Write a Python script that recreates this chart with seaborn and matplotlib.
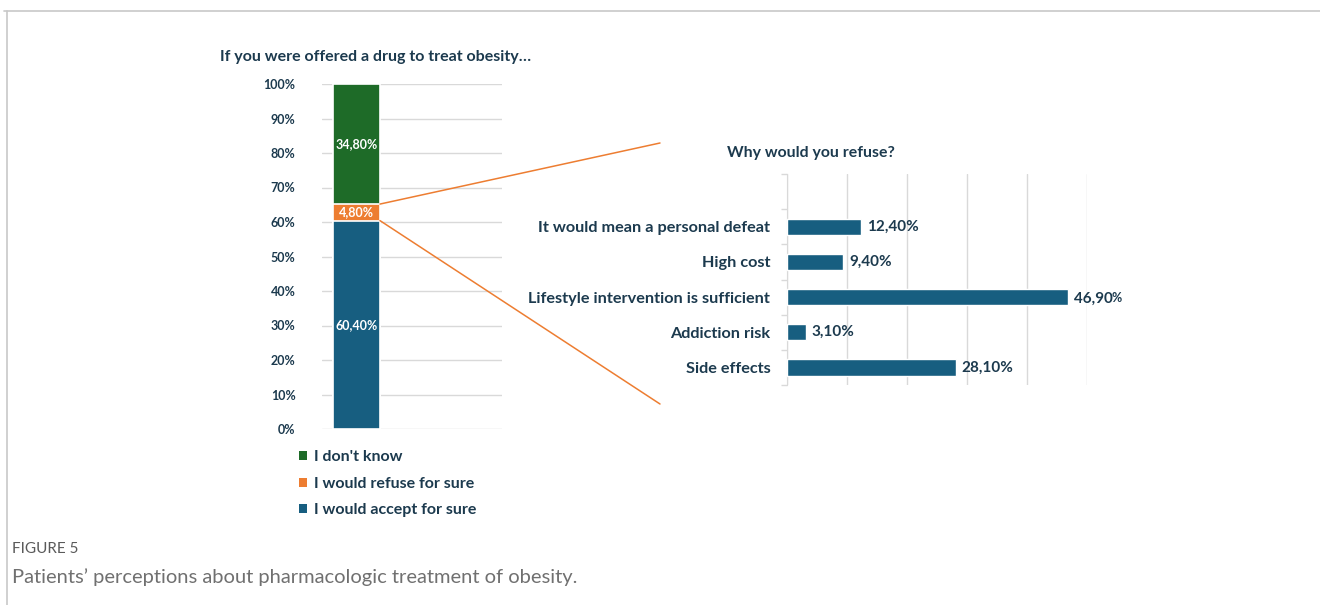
import numpy as np
import pandas as pd
import matplotlib
matplotlib.use("Agg")
import matplotlib.pyplot as plt
import seaborn as sns
from matplotlib.patches import Patch, ConnectionPatch
from matplotlib.lines import Line2D

# ---------------- data ----------------
stack_labels = ["I would accept for sure", "I would refuse for sure", "I don't know"]
stack_values = [60.4, 4.8, 34.8]
stack_text = ["60,40%", "4,80%", "34,80%"]
left_ticks = list(range(0, 101, 10))
left_tick_labels = [f"{t}%" for t in left_ticks]

reasons = ["It would mean a personal defeat", "High cost",
           "Lifestyle intervention is sufficient", "Addiction risk", "Side effects"]
reason_values = [12.4, 9.4, 46.9, 3.1, 28.1]
reason_text = ["12,40", "9,40", "46,90", "3,10", "28,10"]

# ---------------- style ----------------
sns.set_style("white")
plt.rcParams["font.family"] = ["Lato", "DejaVu Sans"]
NAVY = "#1c3a4e"
GREEN = "#1e6b28"
ORANGE = "#ed7d31"
BLUE = "#175e80"
GRID = "#d9d9d9"
stack_colors = [BLUE, ORANGE, GREEN]

W, H = 1320, 605
fig = plt.figure(figsize=(W / 100, H / 100), dpi=100)

def fx(px):
    return px / W

def fy(py):
    return 1 - py / H

# ---------------- left stacked bar ----------------
ax1 = fig.add_axes([fx(322), fy(429), fx(502) - fx(322), fy(84) - fy(429)])
cum = np.cumsum(stack_values)
for i in reversed(range(len(stack_values))):
    df = pd.DataFrame({"x": ["a"], "y": [cum[i]]})
    sns.barplot(data=df, x="x", y="y", color=stack_colors[i], width=0.8,
                edgecolor="white", linewidth=1.2, saturation=1, ax=ax1, zorder=3)
ax1.set_xlim(-0.587, 2.477)
ax1.set_ylim(0, 100)
ax1.set_yticks(left_ticks)
ax1.set_yticklabels(left_tick_labels, fontsize=9, fontweight="bold", color=NAVY)
ax1.set_xticks([])
ax1.set_xlabel("")
ax1.set_ylabel("")
ax1.tick_params(axis="y", length=0, pad=19)
ax1.yaxis.grid(True, color=GRID, linewidth=1)
ax1.set_axisbelow(True)
for s in ax1.spines.values():
    s.set_visible(False)
bottoms = np.concatenate([[0], cum[:-1]])
for b, v, t in zip(bottoms, stack_values, stack_text):
    ax1.text(0, b + v / 2, t, ha="center", va="center", color="white",
             fontsize=9, fontweight="bold", zorder=5)

fig.text(fx(220), fy(57), "If you were offered a drug to treat obesity\u2026",
         ha="left", va="center", fontsize=11.5, fontweight="bold", color=NAVY)

# legend
handles = [Patch(facecolor=stack_colors[i], edgecolor="none") for i in reversed(range(3))]
labels = [stack_labels[i] for i in reversed(range(3))]
leg = fig.legend(handles, labels, loc="upper left", bbox_to_anchor=(fx(285), fy(436)),
                 frameon=False, handlelength=0.5, handleheight=0.5, handletextpad=0.4,
                 labelspacing=0.78, prop={"size": 11.5, "weight": "bold"})
for t in leg.get_texts():
    t.set_color(NAVY)

# ---------------- right horizontal bars ----------------
ax2 = fig.add_axes([fx(787), fy(385), fx(1087) - fx(787), fy(174) - fy(385)])
df2 = pd.DataFrame({"reason": reasons, "value": reason_values})
sns.barplot(data=df2, x="value", y="reason", orient="h", color=BLUE, saturation=1,
            width=0.46, ax=ax2, zorder=3)
ax2.set_xlim(0, 50)
ax2.set_ylim(4.5, -1.5)
ax2.set_xticks(np.arange(0, 51, 10))
ax2.set_xticklabels([])
ax2.tick_params(axis="x", length=0)
ax2.xaxis.grid(True, color=GRID, linewidth=1)
ax2.set_axisbelow(True)
ax2.set_yticks(range(len(reasons)))
ax2.set_yticklabels(reasons, fontsize=11.7, fontweight="bold", color=NAVY)
ax2.set_yticks(np.arange(-1.5, 4.6, 1.0), minor=True)
ax2.tick_params(axis="y", which="major", length=0, pad=12)
ax2.tick_params(axis="y", which="minor", length=4, color=GRID, width=1, left=True)
ax2.set_xlabel("")
ax2.set_ylabel("")
for k, s in ax2.spines.items():
    s.set_visible(k == "left")
ax2.spines["left"].set_color(GRID)

fig.canvas.draw()
renderer = fig.canvas.get_renderer()
for i, (v, t) in enumerate(zip(reason_values, reason_text)):
    if v > 40:
        txt = ax2.annotate(t, xy=(v, i), xytext=(4, -1.5), textcoords="offset points",
                           ha="left", va="center", fontsize=11, fontweight="bold",
                           color=NAVY, annotation_clip=False)
        fig.canvas.draw()
        bb = txt.get_window_extent(renderer)
        fig.text((bb.x1 - 1) / W, (bb.y0 + 2) / H, "%", ha="left", va="bottom",
                 fontsize=9, fontweight="bold", color=NAVY)
    else:
        ax2.annotate(t + "%", xy=(v, i), xytext=(4, 0), textcoords="offset points",
                     ha="left", va="center", fontsize=11, fontweight="bold",
                     color=NAVY, annotation_clip=False)

fig.text(fx(811), fy(153), "Why would you refuse?", ha="center", va="center",
         fontsize=11.4, fontweight="bold", color=NAVY)

# ---------------- connector lines ----------------
for yv, endy in [(cum[1], 143), (cum[0], 404)]:
    con = ConnectionPatch(xyA=(0.4, yv), coordsA=ax1.transData,
                          xyB=(fx(660), fy(endy)), coordsB=fig.transFigure,
                          color=ORANGE, linewidth=1.1)
    fig.add_artist(con)

# ---------------- frame and caption ----------------
fig.add_artist(Line2D([fx(4), 1.0], [fy(11), fy(11)], color="#c8c8c8", linewidth=1.2,
                      transform=fig.transFigure))
fig.add_artist(Line2D([fx(7), fx(7)], [fy(11), 0.0], color="#c8c8c8", linewidth=1.2,
                      transform=fig.transFigure))
fig.text(fx(12), fy(549), "FIGURE 5", ha="left", va="center", fontsize=11,
         color="#5a5a5a")
fig.text(fx(12), fy(577), "Patients\u2019 perceptions about pharmacologic treatment of obesity.",
         ha="left", va="center", fontsize=14.5, color="#707070", fontweight="normal")

fig.savefig("out.png", dpi=100)
